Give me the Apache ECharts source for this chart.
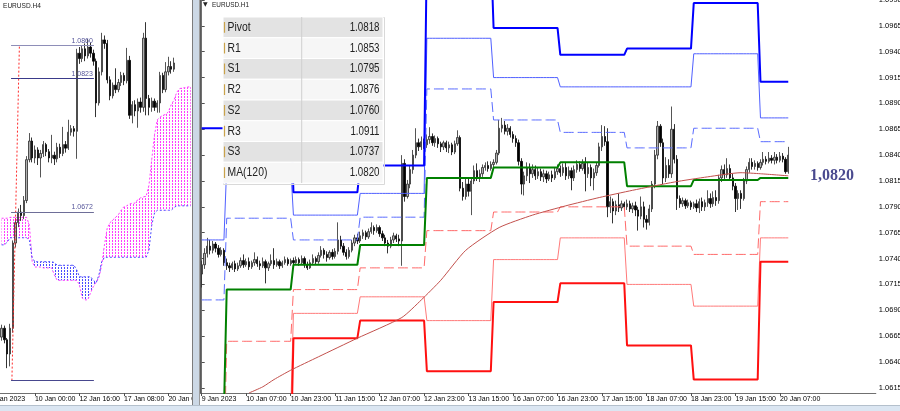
<!DOCTYPE html>
<html><head><meta charset="utf-8">
<script src="https://cdn.jsdelivr.net/npm/echarts@6/dist/echarts.min.js"></script>
<style>
html,body{margin:0;padding:0;background:#fff;width:900px;height:411px;overflow:hidden;}
#left{position:absolute;left:0;top:0;width:192px;height:405px;overflow:hidden;}
#sep{position:absolute;left:192px;top:0;width:8px;height:405px;box-sizing:border-box;background:#ccd8e5;border-left:1px solid #7c7c7c;border-right:1px solid #9a9a9a;}
#right{position:absolute;left:200px;top:0;width:700px;height:405px;overflow:hidden;}
#strip{position:absolute;left:0;top:405px;width:900px;height:6px;box-sizing:border-box;background:#dbe6f2;border-top:1px solid #b4c0cc;}
</style></head>
<body>
<div id="left"></div><div id="sep"></div><div id="right"></div><div id="strip"></div>
<script>
// ---------- DATA ----------
// prices coded as pips after "1.0" (e.g. 734 = 1.0734); candle tuples are [open, close, low, high]
const h1Candles = [
[725,734,712,738],[734,745,730,750],[745,752,741,760],[752,748,744,758],[748,754,745,757],[754,750,746,756],[750,744,741,753],[744,748,742,751],[748,736,733,750],
[736,733,729,740],[733,731,727,736],[731,735,729,737],[735,730,727,738],[730,733,728,736],[733,738,731,741],[738,734,731,744],[734,737,732,740],[737,732,729,741],[732,736,730,738],[736,739,733,746],[739,735,732,742],[735,733,729,738],[733,737,731,741],[737,731,716,739],[731,735,728,737],[735,738,733,744],[738,734,730,750],[734,737,732,740],[737,733,730,739],[733,736,731,738],[736,739,734,742],[739,735,733,741],[735,738,733,740],
[738,736,734,741],[736,739,735,742],[739,736,733,741],[736,740,734,743],[740,734,731,742],[734,731,729,737],[731,736,730,739],[736,740,734,744],[740,737,734,742],[737,743,735,746],[743,748,741,752],[748,744,740,750],[744,741,737,747],[741,746,739,748],[746,742,739,749],[742,747,740,750],[747,758,744,775],[758,752,749,762],[752,746,743,755],[746,742,739,749],[742,748,740,751],[748,755,746,758],[755,760,752,763],[760,757,754,764],
[757,762,755,766],[762,765,759,768],[765,761,758,767],[761,766,759,769],[766,770,764,775],[770,767,763,772],[767,770,765,773],[770,764,761,772],[764,760,757,767],[760,755,752,763],[755,752,745,758],[752,758,750,761],[758,762,755,765],[762,759,756,764],[759,757,752,763],[757,832,733,840],[832,800,795,836],[800,812,798,816],[812,826,808,830],[826,840,822,845],[840,852,837,866],[852,848,844,856],[848,853,845,858],[853,850,846,856],
[850,855,847,860],[855,858,851,867],[858,852,849,861],[852,856,848,859],[856,851,847,858],[851,848,843,853],[848,852,845,854],[852,847,843,854],[847,850,842,853],[850,843,840,852],[843,851,841,854],[851,857,849,864],[857,808,805,859],[808,800,796,814],[800,812,797,817],[812,805,800,818],[805,815,782,818],[815,825,812,830],[825,818,815,832],[818,822,814,826],[822,828,819,831],[828,830,825,833],[830,827,824,834],[827,831,825,834],
[831,833,828,836],[833,842,831,845],[842,866,840,874],[866,869,862,876],[869,863,860,873],[863,866,859,870],[866,860,857,868],[860,856,852,863],[856,852,848,859],[852,834,830,855],[834,812,802,837],[812,820,801,824],[820,828,815,833],[828,822,813,832],[822,826,818,831],[826,820,816,830],[820,824,817,828],[824,819,815,827],[819,822,814,826],[822,817,813,825],[817,821,815,824],[821,818,814,825],[818,824,816,828],[824,827,821,831],
[827,823,819,830],[823,828,820,832],[828,820,816,833],[820,825,817,829],[825,818,806,828],[818,826,815,830],[826,831,823,835],[831,827,824,834],[827,832,825,836],[832,822,805,838],[822,828,818,833],[828,818,810,831],[818,823,806,827],[823,830,820,833],[830,848,828,852],[848,858,844,869],[858,853,849,868],[853,790,780,866],[790,795,784,800],[795,786,774,798],[786,792,782,796],[792,789,785,803],[789,793,786,796],[793,790,786,795],
[790,793,787,797],[793,788,785,796],[788,791,784,794],[791,787,781,795],[787,781,767,790],[781,790,778,800],[790,778,770,795],[778,775,768,782],[775,788,772,792],[788,812,785,815],[812,840,808,845],[840,868,836,873],[868,852,848,870],[852,818,812,856],[818,830,814,838],[830,822,818,836],[822,865,818,887],[865,836,832,870],[836,798,787,840],[798,793,789,801],[793,796,790,799],[796,791,788,798],[791,794,789,797],[794,790,787,796],
[790,793,788,795],[793,789,785,797],[789,795,784,798],[795,790,786,799],[790,794,786,797],[794,798,790,806],[798,793,789,803],[793,799,790,805],[799,796,791,806],[796,818,793,821],[818,826,814,830],[826,821,817,831],[821,827,818,837],[827,818,815,831],[818,810,806,822],[810,798,785,813],[798,803,787,806],[803,798,788,806],[798,815,796,818],[815,826,812,829],[826,833,823,837],[833,829,826,837],[829,832,826,835],[832,828,825,834],
[828,833,826,836],[833,836,830,843],[836,834,831,839],[834,837,832,843],[837,835,832,840],[835,838,831,843],[838,835,832,841],[835,839,833,843],[839,836,833,842],[836,824,822,838],[824,840,822,848]
];
const dayStartBars = [0, 9, 33, 57, 81, 105, 129, 153, 177, 201];
const pivotP  = [1.0592,1.0710,1.0734,1.0753,1.0818,1.0828,1.0833,1.0810,1.0816,1.0818];
const pivotR1 = [1.0700,1.0779,1.0758,1.0780,1.0904,1.0874,1.0862,1.0847,1.0866,1.0853];
const pivotR2 = [1.0758,1.0829,1.0782,1.0803,1.0953,1.0915,1.0906,1.0906,1.0938,1.0876];
const pivotR3 = [1.0866,1.0898,1.0804,1.0830,1.1041,1.0963,1.0937,1.0943,1.0987,1.0911];
const pivotS1 = [1.0534,1.0660,1.0710,1.0731,1.0767,1.0785,1.0790,1.0752,1.0744,1.0795];
const pivotS2 = [1.0426,1.0591,1.0687,1.0703,1.0680,1.0739,1.0760,1.0715,1.0694,1.0760];
const pivotS3 = [1.0368,1.0541,1.0663,1.0680,1.0631,1.0698,1.0716,1.0656,1.0623,1.0737];
// MA(120) read at [bar index, price]
const ma120Points = [[17,1.0610],[22,1.0616],[26,1.0623],[32,1.0632],[42,1.0645],[56,1.0663],[72,1.0683],[79,1.0700],[86,1.0719],[95,1.0748],[107,1.0770],[119,1.0782],[131,1.0791],[143,1.0799],[155,1.0806],[170,1.0814],[182,1.0819],[194,1.0823],[201,1.0822],[211,1.0820]];
const maLabelValue = 1.0820;
const rightTickLabels = ["9 Jan 2023","10 Jan 07:00","10 Jan 23:00","11 Jan 15:00","12 Jan 07:00","12 Jan 23:00","13 Jan 15:00","16 Jan 07:00","16 Jan 23:00","17 Jan 15:00","18 Jan 07:00","18 Jan 23:00","19 Jan 15:00","20 Jan 07:00"];
const yTickValues = [1.0615,1.0640,1.0665,1.0690,1.0715,1.0740,1.0765,1.0790,1.0815,1.0840,1.0865,1.0890,1.0915,1.0940,1.0965,1.0990];
const tableNames = ["Pivot","R1","S1","R2","S2","R3","S3","MA(120)"];
const tableValues = ["1.0818","1.0853","1.0795","1.0876","1.0760","1.0911","1.0737","1.0820"];

const h4Candles = [
[531,541,527,545],[541,528,524,544],[528,512,496,530],[512,541,498,546],[541,637,536,640],[637,660,632,665],[660,672,655,676],[672,668,662,680],[668,685,664,690],[685,731,682,735],
[731,752,728,761],[752,733,728,756],[733,742,727,747],[742,733,725,745],[733,738,711,742],[738,748,734,752],[748,740,735,750],[740,733,728,743],[733,736,727,759],[736,732,725,740],
[732,745,728,750],[745,738,733,749],[738,748,735,768],[748,744,739,752],[744,762,742,776],[762,766,758,770],[766,763,757,769],[763,851,732,856],[851,845,839,858],[845,856,841,860],
[856,848,842,862],[848,858,845,867],[858,851,846,863],[851,842,837,855],[842,795,779,845],[795,830,792,835],[830,866,826,874],[866,862,856,871],[862,821,817,866],[821,803,798,825],
[803,815,800,818],[815,810,806,834],[810,818,807,822],[818,826,814,830],[826,820,815,829],[820,843,817,857],[843,781,777,848],[781,793,772,797],[793,786,780,798],[786,796,767,800],
[796,790,784,801],[790,868,785,874],[868,800,781,886],[800,790,781,804],[790,797,785,801],[797,790,786,800],[790,795,784,798],[795,826,784,830],[826,810,806,829],[810,830,807,841],
[830,836,826,847],[836,833,828,842],[833,840,830,846]
];
const spanA = [665,665,665,666,666,666,666,666,666,666,657,616,610,610,610,609,609,609,609,601,595,595,595,595,595,595,595,595,590,575,573,573,581,588,593,598,612,635,654,660,663,666,669,674,678,679,681,682,682,686,688,689,690,702,731,759,776,779,781,782,785,793,798,807,811,812,812,813,813];
const spanB = [635,635,638,643,643,643,643,643,643,643,640,620,616,616,616,616,616,616,616,615,612,612,612,612,612,612,612,607,599,599,599,599,599,595,592,601,616,621,621,621,621,621,621,621,621,621,621,621,621,621,621,621,621,629,657,671,674,674,674,674,674,674,677,679,679,679,679,679,679];
const leftTickLabels = ["9 Jan 2023","10 Jan 00:00","12 Jan 16:00","17 Jan 08:00","20 Jan 00:00"];
const fibLevels = [1.0860, 1.0823, 1.0672, 1.0482];
const fibTrend = [[7.7, 1.0482], [10.4, 1.0860]];

// ---------- helpers ----------
const FONT = "'Liberation Sans','Arial',sans-serif";
const px = v => +(1 + v / 10000).toFixed(4);
function dotPattern(color){
  const c = document.createElement('canvas'); c.width = 3; c.height = 3;
  const g = c.getContext('2d'); g.fillStyle = color; g.fillRect(1, 0, 1, 2);
  return {image: c, repeat: 'repeat'};
}
function stepSeries(levels){
  const out = [];
  for (let i = 0; i < h1Candles.length; i++) {
    let d = 0;
    while (d + 1 < dayStartBars.length && dayStartBars[d + 1] <= i) d++;
    out.push(levels[d]);
  }
  return out;
}

// ---------- RIGHT CHART (H1) ----------
const NR = 243;
const rightCats = Array.from({length: NR}, (_, i) => String(i));
const candleR = h1Candles.map(c => c.map(px));
const lastClose = candleR[candleR.length - 1][1];
const lvl = (arr, color, width, type) => ({
  type: 'line', data: stepSeries(arr), xAxisIndex: 0, yAxisIndex: 0,
  symbol: 'none', showSymbol: false, silent: true, z: 3,
  lineStyle: {color, width, type}
});
const tableG = [];
const TX = 23, TY = 17, TW = 160, RH = 20.75;
tableNames.forEach((n, i) => {
  const y = TY + i * RH;
  tableG.push({type:'rect', z:100, shape:{x:TX, y:y, width:TW, height:RH}, style:{fill: i % 2 ? '#f6f6f6' : '#e3e3e3', stroke:'#ffffff', lineWidth:1}});
  tableG.push({type:'line', z:101, shape:{x1:TX+1.5, y1:y+5, x2:TX+1.5, y2:y+RH-5}, style:{stroke:'#c9a24a', lineWidth:1.2}});
  tableG.push({type:'text', z:102, x:TX+4.5, y:y+RH/2, scaleX:0.8, style:{text:n, fill:'#222', font:"13px " + FONT, align:'left', verticalAlign:'middle'}});
  tableG.push({type:'text', z:102, x:TX+156.5, y:y+RH/2, scaleX:0.75, style:{text:tableValues[i], fill:'#222', font:"13px " + FONT, align:'right', verticalAlign:'middle'}});
});
tableG.push({type:'line', z:101, shape:{x1:TX+78.7, y1:TY, x2:TX+78.7, y2:TY+RH*8}, style:{stroke:'#cfcfcf', lineWidth:1}});
tableG.push({type:'rect', z:99, shape:{x:TX+0.5, y:TY+0.5, width:TW+1, height:RH*8+1}, style:{fill:'none', stroke:'#d9d9d9', lineWidth:1}});

const right = echarts.init(document.getElementById('right'), null, {renderer:'canvas'});
right.setOption({
  animation: false,
  backgroundColor: '#ffffff',
  grid: {left: 0.3, top: 0, width: NR * 2.78, height: 393, outerBoundsMode: 'none', containLabel: false},
  xAxis: [{
    type: 'category', data: rightCats, boundaryGap: true,
    axisLine: {show: true, lineStyle: {color: '#707070', width: 1}},
    axisTick: {show: true, length: 3, alignWithLabel: true, interval: (i) => i % 16 === 0 && i / 16 < rightTickLabels.length, lineStyle: {color: '#505050'}},
    axisLabel: {show: true, interval: (i) => i % 16 === 0 && i / 16 < rightTickLabels.length, formatter: (v, i) => rightTickLabels[i / 16] || '', align: 'left', margin: 3, color: '#000', fontSize: 7, fontFamily: FONT},
    splitLine: {show: false}
  }, {
    type: 'value', min: -0.5, max: NR - 0.5, show: false
  }],
  yAxis: [{
    type: 'value', min: 1.0610, max: 1.0990, position: 'right', scale: true,
    axisLine: {show: true, lineStyle: {color: '#707070', width: 1}},
    axisTick: {show: true, length: 3, customValues: yTickValues, lineStyle: {color: '#505050'}},
    axisLabel: {show: true, customValues: yTickValues, formatter: v => v.toFixed(4), margin: 3, color: '#000', fontSize: 7.5, fontFamily: FONT},
    splitLine: {show: false}
  }],
  series: [
    {
      type: 'candlestick', data: candleR, xAxisIndex: 0, yAxisIndex: 0, barWidth: 1.8, z: 2, silent: true,
      itemStyle: {color: '#b0b0b0', color0: '#000000', borderColor: '#2a2a2a', borderColor0: '#000000', borderWidth: 0.8},
      markLine: {
        silent: true, symbol: ['none', 'none'], animation: false,
        data: [{yAxis: lastClose}],
        lineStyle: {opacity: 0},
        label: {show: true, position: 'end', distance: 0, formatter: lastClose.toFixed(4), backgroundColor: '#000', color: '#fff', padding: [1, 3, 1, 2], fontSize: 7.5, fontFamily: FONT}
      }
    },
    lvl(pivotS2, '#ff7a7a', 1, 'solid'),
    lvl(pivotS1, '#ff6a6a', 1, [10, 4]),
    lvl(pivotS3, '#ff1010', 2, 'solid'),
    lvl(pivotR2, '#5060ff', 1, 'solid'),
    lvl(pivotR1, '#5a6cff', 1, [10, 4]),
    lvl(pivotR3, '#0000ff', 2, 'solid'),
    lvl(pivotP, '#008000', 2, 'solid'),
    {
      type: 'line', xAxisIndex: 1, yAxisIndex: 0, data: ma120Points, symbol: 'none', showSymbol: false, smooth: 0.2, silent: true, z: 4,
      lineStyle: {color: '#c2504c', width: 1}
    },
    {
      type: 'scatter', xAxisIndex: 1, yAxisIndex: 0, data: [[226.7, maLabelValue]], symbol: 'circle', symbolSize: 1, silent: true, z: 5,
      itemStyle: {color: 'rgba(0,0,0,0)'},
      label: {show: true, position: 'inside', formatter: maLabelValue.toFixed(4).replace('.', ','), color: '#1b1b72', fontFamily: "'Liberation Serif',serif", fontWeight: 'bold', fontSize: 16}
    }
  ],
  graphic: [
    {type: 'line', z: 50, shape: {x1: 0.5, y1: 0, x2: 0.5, y2: 393}, style: {stroke: '#5a5a5a', lineWidth: 1}},
    {type: 'text', z: 102, x: 3, y: 1.5, style: {text: '\u25BC', fill: '#222', font: "6px 'DejaVu Sans',sans-serif", align: 'left', verticalAlign: 'top'}},
    {type: 'text', z: 102, x: 12, y: 1, scaleX: 0.8, style: {text: 'EURUSD.H1', fill: '#222', font: "8px " + FONT, align: 'left', verticalAlign: 'top'}}
  ].concat(tableG)
});

// ---------- LEFT CHART (H4) ----------
const NL = 73, LOFF = 4;
const leftCats = Array.from({length: NL}, (_, i) => String(i));
const pad = n => Array.from({length: n}, () => '-');
const candleL = pad(LOFF).concat(h4Candles.map(c => c.map(px)));
const A = spanA.map(px), B = spanB.map(px);
const cloudBase = pad(LOFF).concat(A.map((a, i) => Math.min(a, B[i])));
const cloudPink = pad(LOFF).concat(A.map((a, i) => a > B[i] ? +(a - B[i]).toFixed(5) : 0));
const cloudBlue = pad(LOFF).concat(A.map((a, i) => B[i] > a ? +(B[i] - a).toFixed(5) : 0));
const fibColors = ['#8e8eb8', '#3a3a8a', '#6e6e98', '#48488e'];

const left = echarts.init(document.getElementById('left'), null, {renderer:'canvas'});
left.setOption({
  animation: false,
  backgroundColor: '#ffffff',
  grid: {left: -10.9, top: 0, width: NL * 2.78, height: 393, outerBoundsMode: 'none', containLabel: false},
  xAxis: [{
    type: 'category', data: leftCats, boundaryGap: true,
    axisLine: {show: true, lineStyle: {color: '#707070', width: 1}},
    axisTick: {show: true, length: 3, alignWithLabel: true, interval: (i) => i % 16 === 0, lineStyle: {color: '#505050'}},
    axisLabel: {show: true, interval: (i) => i % 16 === 0, formatter: (v, i) => leftTickLabels[i / 16] || '', align: 'left', margin: 3, color: '#000', fontSize: 7, fontFamily: FONT},
    splitLine: {show: false}
  }, {
    type: 'value', min: -0.5, max: NL - 0.5, show: false
  }],
  yAxis: [{type: 'value', min: 1.0468, max: 1.0911, scale: true, show: false, splitLine: {show: false}}],
  series: [
    {type: 'line', data: cloudBase, stack: 'cloud', symbol: 'none', showSymbol: false, silent: true, lineStyle: {opacity: 0}, z: 1},
    {type: 'line', data: cloudPink, stack: 'cloud', symbol: 'none', showSymbol: false, silent: true, lineStyle: {opacity: 0}, areaStyle: {color: dotPattern('#ff3cff'), opacity: 1}, z: 1},
    {type: 'line', data: cloudBlue, stack: 'cloud', symbol: 'none', showSymbol: false, silent: true, lineStyle: {opacity: 0}, areaStyle: {color: dotPattern('#4a4aff'), opacity: 1}, z: 1},
    {type: 'line', data: pad(LOFF).concat(A), symbol: 'none', showSymbol: false, silent: true, lineStyle: {color: '#ff3cff', width: 1, type: [2, 2]}, z: 2},
    {type: 'line', data: pad(LOFF).concat(B), symbol: 'none', showSymbol: false, silent: true, lineStyle: {color: '#4a4aff', width: 1, type: [2, 2]}, z: 2},
    {
      type: 'candlestick', data: candleL, barWidth: 1.8, z: 3, silent: true,
      itemStyle: {color: '#b0b0b0', color0: '#000000', borderColor: '#2a2a2a', borderColor0: '#000000', borderWidth: 0.8}
    },
    {
      type: 'line', xAxisIndex: 1, yAxisIndex: 0, data: fibTrend, symbol: 'none', showSymbol: false, silent: true, z: 4,
      lineStyle: {color: '#ff2a2a', width: 1, type: [2, 2]},
      markLine: {
        silent: true, symbol: ['none', 'none'], animation: false,
        data: fibLevels.map((v, j) => [
          {coord: [7.4, v], lineStyle: {color: fibColors[j], width: 1, type: 'solid'},
           label: {show: j < 3, formatter: v.toFixed(4), position: 'insideEndTop', distance: 1, color: '#55559a', fontSize: 7, fontFamily: FONT}},
          {coord: [37.2, v], lineStyle: {color: fibColors[j], width: 1, type: 'solid'},
           label: {show: j < 3, formatter: v.toFixed(4), position: 'insideEndTop', distance: 1, color: '#55559a', fontSize: 7, fontFamily: FONT}}
        ])
      }
    }
  ],
  graphic: [
    {type: 'text', z: 100, x: 3, y: 2, scaleX: 0.82, style: {text: 'EURUSD.H4', fill: '#222', font: "8px " + FONT, align: 'left', verticalAlign: 'top'}}
  ]
});
</script>
</body></html>
